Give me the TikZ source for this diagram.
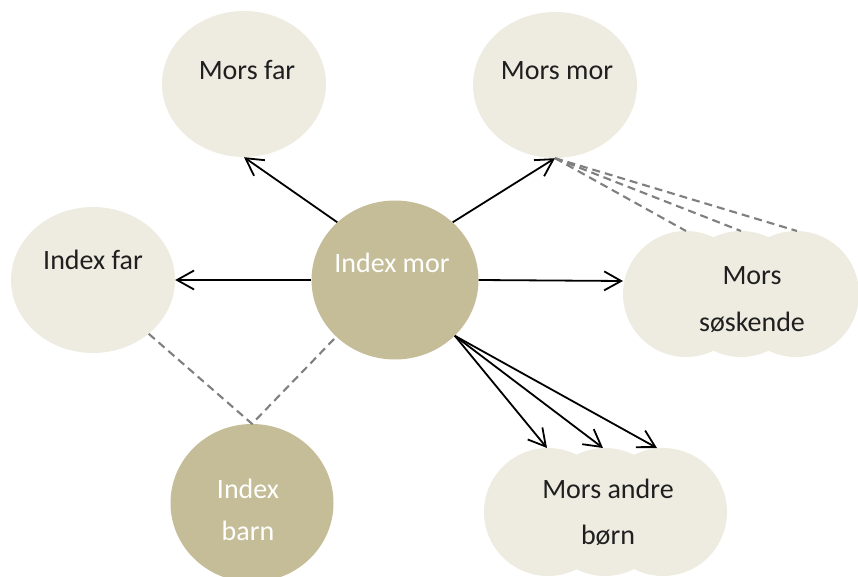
\documentclass[tikz,border=0pt]{standalone}
\usepackage{fontspec}
\setmainfont{Carlito}
\usetikzlibrary{arrows.meta,shapes.geometric}
\definecolor{tanlight}{HTML}{EEECE1}
\definecolor{tandark}{HTML}{C4BD97}
\definecolor{kinlink}{HTML}{7F7F7F}

\begin{document}
\begin{tikzpicture}[
  x=1pt,
  y=-1pt,
  line join=round,
  relative/.style={ellipse,fill=tanlight,minimum width=164pt,minimum height=146pt,inner sep=0pt},
  index/.style={ellipse,fill=tandark,minimum width=167pt,minimum height=159pt,inner sep=0pt},
  lobe/.style={fill=tanlight},
  paletext/.style={anchor=base,inner sep=0pt,font=\fontsize{28}{34}\selectfont,text=black!88},
  indextext/.style={paletext,text=white},
  descent/.style={draw=black,line width=1.8pt,-{Straight Barb[length=17pt,width=19pt]}},
  kinship/.style={draw=kinlink,line width=2.1pt,dash pattern=on 8pt off 5pt}
]
  \useasboundingbox (0,0) rectangle (858,577);

  % Grandparents and the father are pale ellipses.
  \node[relative] (morsfar) at (244,84) {};
  \node[relative] (morsmor) at (555,85) {};
  \node[relative] (indexfar) at (93,280) {};

  % The two index persons are the darker circles.
  \node[index] (indexmor) at (395,280) {};
  \node[index,minimum width=163pt,minimum height=158pt] (indexbarn) at (252,503) {};

  % Groups of several persons are clouds of three overlapping lobes.
  \foreach \cx in {686,741,796} {
    \fill[lobe] (\cx,294) circle[radius=63pt];
  }
  \foreach \cx in {548,605,663} {
    \fill[lobe] (\cx,512) circle[radius=64pt];
  }

  % Points on the cloud outlines where connectors end.
  \coordinate (soskW) at (623,281);
  \coordinate (sosk1) at (686,231);
  \coordinate (sosk2) at (741,231);
  \coordinate (sosk3) at (797,231);
  \coordinate (born1) at (547,448);
  \coordinate (born2) at (603,448);
  \coordinate (born3) at (657,448);

  % Texts, one node per printed line, set on their baselines.
  \node[paletext] (morsfarT) at (247,80) {Mors far};
  \node[paletext] (morsmorT) at (557,80) {Mors mor};
  \node[paletext] (indexfarT) at (93,269) {Index far};
  \node[indextext] (indexmorT) at (392,272) {Index mor};
  \node[indextext] (indexbarnA) at (248,498) {Index};
  \node[indextext] (indexbarnB) at (248,540) {barn};
  \node[paletext] (soskA) at (752,284) {Mors};
  \node[paletext] (soskB) at (752,331) {søskende};
  \node[paletext] (bornA) at (608,498) {Mors andre};
  \node[paletext] (bornB) at (608,544) {børn};

  % Arrows out of the index mother.
  \draw[descent] (indexmor.135) -- (morsfar.south);
  \draw[descent] (indexmor.45) -- (morsmor.south);
  \draw[descent] (indexmor.180) -- (indexfar.east);
  \draw[descent] (indexmor.0) -- (soskW);
  \foreach \k in {1,2,3} {
    \draw[descent] (indexmor.-43) -- (born\k);
  }

  % Dashed kinship links.
  \foreach \k in {1,2,3} {
    \draw[kinship] (morsmor.south) -- (sosk\k);
  }
  \draw[kinship] (indexfar.-44) -- (indexbarn.north) -- (indexmor.-136);
\end{tikzpicture}
\end{document}
